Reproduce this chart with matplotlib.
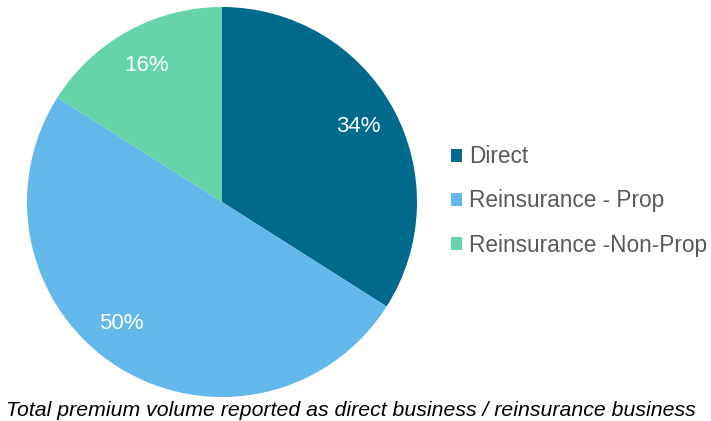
import matplotlib
matplotlib.use("Agg")
from matplotlib import pyplot as plt

plt.rcParams['font.family'] = ['Liberation Sans', 'DejaVu Sans']

# 数据
labels = ["Direct", "Reinsurance - Prop", "Reinsurance -Non-Prop"]
shares = [34, 50, 16]
colors = ["#006A8C", "#62B8EA", "#65D4A8"]

fig = plt.figure(figsize=(7.11, 4.21), dpi=100)
ax = fig.add_axes([27 / 711, 24 / 421, 390 / 711, 390 / 421])

wedges, texts, autotexts = ax.pie(shares, colors=colors, startangle=90, counterclock=False,
                                  autopct="%d%%", pctdistance=0.8, radius=1.0,
                                  wedgeprops={"linewidth": 0})
for t in autotexts:
    t.set_color("white")
    t.set_fontsize(16)
# Excel 把 50% 放得更靠左
x, y = autotexts[1].get_position()
autotexts[1].set_position((x - 0.09, y + 0.05))
ax.set_xlim(-1, 1)
ax.set_ylim(-1, 1)
ax.set_aspect("equal")

leg = fig.legend(wedges, labels, loc="center left", bbox_to_anchor=(451 / 711, 1 - 201 / 421),
                 frameon=False, fontsize=16.3, handlelength=0.5, handleheight=0.5,
                 handletextpad=0.3, labelspacing=0.93, borderaxespad=0, borderpad=0)
for t in leg.get_texts():
    t.set_color("#595959")

fig.text(351 / 711, 1 - 410 / 421, "Total premium volume reported as direct business / reinsurance business",
         ha="center", va="center", fontsize=15.3, style="italic", color="black")

plt.savefig("out.png", dpi=100)
